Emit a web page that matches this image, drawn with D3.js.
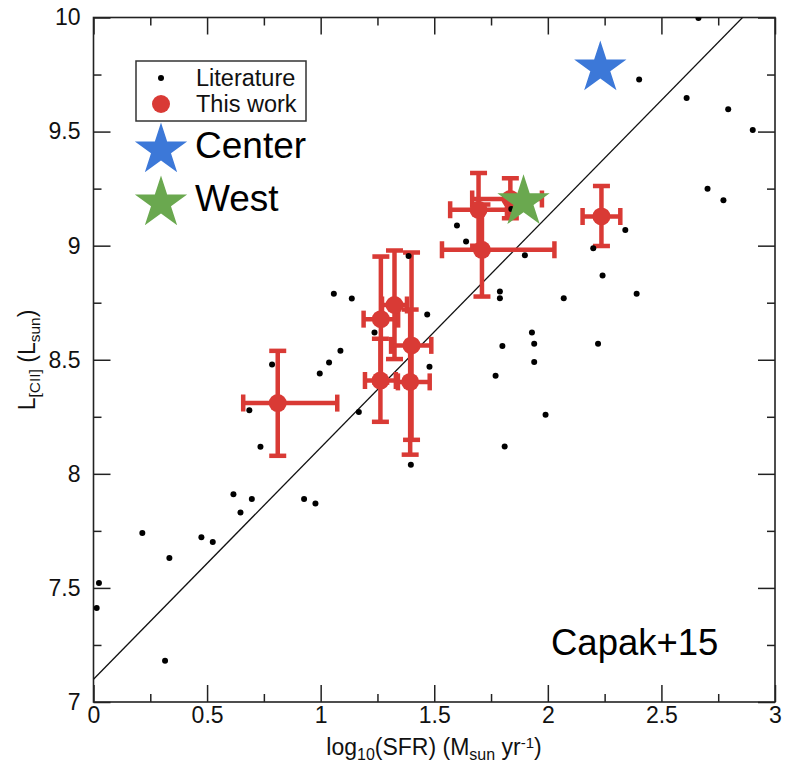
<!DOCTYPE html>
<html>
<head>
<meta charset="utf-8">
<script src="https://cdn.jsdelivr.net/npm/d3@7"></script>
<style>
  html, body { margin: 0; padding: 0; background: #fff; }
  svg { display: block; font-family: "Liberation Sans", Arial, Helvetica, sans-serif; }
</style>
</head>
<body>
<svg id="chart" width="785" height="772"></svg>
<script>
// Literature compilation: log10 SFR vs log10 L[CII]
const litSFR = [0.215, 0.334, 0.024, 0.014, 0.315, 0.475, 0.525, 0.616, 0.647, 0.697,
  0.927, 0.977, 0.686, 0.786, 0.735, 0.996, 1.037, 1.087, 1.058, 1.137,
  1.168, 1.237, 1.469, 1.479, 1.397, 1.387, 1.640, 2.663, 2.402, 2.611,
  2.794, 2.902, 2.703, 2.773, 1.600, 1.839, 1.899, 2.341, 2.200, 2.241,
  2.391, 1.789, 1.789, 2.070, 1.930, 1.940, 1.800, 2.221, 1.940, 1.770,
  1.990, 1.810];
const litLCII = [7.741, 7.631, 7.522, 7.412, 7.181, 7.722, 7.701, 7.910, 7.831, 7.890,
  7.890, 7.870, 8.279, 8.479, 8.119, 8.440, 8.488, 8.539, 8.789, 8.768,
  8.271, 8.619, 8.698, 8.469, 8.040, 8.955, 9.018, 9.998, 9.728, 9.647,
  9.598, 9.507, 9.249, 9.199, 9.088, 9.161, 8.958, 9.069, 8.989, 8.869,
  8.789, 8.799, 8.770, 8.770, 8.619, 8.570, 8.560, 8.570, 8.490, 8.430,
  8.259, 8.120];

// This work: values with lower / upper error limits
const workSFR   = [0.811, 1.265, 1.263, 1.325, 1.400, 1.394, 1.710, 1.695, 1.835, 2.236];
const workSFRlo = [0.659, 1.189, 1.195, 1.270, 1.310, 1.340, 1.534, 1.570, 1.667, 2.153];
const workSFRhi = [1.073, 1.341, 1.331, 1.380, 1.487, 1.480, 2.029, 1.820, 1.974, 2.319];
const workL     = [8.310, 8.678, 8.409, 8.740, 8.563, 8.403, 8.982, 9.157, 9.205, 9.128];
const workLlo   = [8.079, 8.400, 8.228, 8.503, 8.149, 8.084, 8.777, 9.000, 9.120, 8.999];
const workLhi   = [8.539, 8.952, 8.592, 8.979, 8.970, 8.720, 9.180, 9.318, 9.296, 9.262];

// Integrated regions
const regionNames = ["Center", "West"];
const regionSFR = [2.231, 1.893];
const regionL = [9.779, 9.192];
const regionColors = ["#3c78d8", "#6aa84f"];

// Capak+15 relation
const fitIntercept = 7.1;
const fitSlope = 1.015;

const xMajor = [0, 0.5, 1, 1.5, 2, 2.5, 3];
const xMajorLabels = ["0", "0.5", "1", "1.5", "2", "2.5", "3"];
const xMinor = [0.25, 0.75, 1.25, 1.75, 2.25, 2.75];
const yMajor = [7, 7.5, 8, 8.5, 9, 9.5, 10];
const yMajorLabels = ["7", "7.5", "8", "8.5", "9", "9.5", "10"];
const yMinor = [7.25, 7.75, 8.25, 8.75, 9.25, 9.75];

const RED = "#d93a35";

const svg = d3.select("#chart");
const L = 93.5, R = 775, T = 17.5, B = 702;
const x = d3.scaleLinear().domain([0, 3]).range([L, R]);
const y = d3.scaleLinear().domain([7, 10]).range([B, T]);

svg.append("defs").append("clipPath").attr("id", "plotclip")
  .append("rect").attr("x", L).attr("y", T).attr("width", R - L).attr("height", B - T);

// frame + inward ticks on all four sides
const tickFont = 23;
function styleAxis(g) {
  g.select(".domain").remove();
  g.selectAll(".tick line").attr("stroke", "#222").attr("stroke-width", 1.5);
  g.selectAll(".tick text").attr("fill", "#111").style("font-size", tickFont + "px")
    .style("font-family", "'Liberation Sans', Arial, sans-serif");
}
const xb = svg.append("g").attr("transform", `translate(0,${B})`)
  .call(d3.axisBottom(x).tickValues(xMajor).tickSizeInner(-17).tickSizeOuter(0).tickPadding(22)
    .tickFormat((d, i) => xMajorLabels[i]));
styleAxis(xb);
xb.selectAll(".tick text").attr("dy", "0.71em").attr("y", 5);
svg.append("g").attr("transform", `translate(0,${B})`)
  .call(d3.axisBottom(x).tickValues(xMinor).tickSizeInner(-8).tickSizeOuter(0).tickFormat(""))
  .call(styleAxis);
svg.append("g").attr("transform", `translate(0,${T})`)
  .call(d3.axisTop(x).tickValues(xMajor).tickSizeInner(-17).tickSizeOuter(0).tickFormat(""))
  .call(styleAxis);
svg.append("g").attr("transform", `translate(0,${T})`)
  .call(d3.axisTop(x).tickValues(xMinor).tickSizeInner(-8).tickSizeOuter(0).tickFormat(""))
  .call(styleAxis);
const yl = svg.append("g").attr("transform", `translate(${L},0)`)
  .call(d3.axisLeft(y).tickValues(yMajor).tickSizeInner(-17).tickSizeOuter(0).tickPadding(14)
    .tickFormat((d, i) => yMajorLabels[i]));
styleAxis(yl);
yl.selectAll(".tick text").attr("x", -13);
svg.append("g").attr("transform", `translate(${L},0)`)
  .call(d3.axisLeft(y).tickValues(yMinor).tickSizeInner(-8).tickSizeOuter(0).tickFormat(""))
  .call(styleAxis);
svg.append("g").attr("transform", `translate(${R},0)`)
  .call(d3.axisRight(y).tickValues(yMajor).tickSizeInner(-17).tickSizeOuter(0).tickFormat(""))
  .call(styleAxis);
svg.append("g").attr("transform", `translate(${R},0)`)
  .call(d3.axisRight(y).tickValues(yMinor).tickSizeInner(-8).tickSizeOuter(0).tickFormat(""))
  .call(styleAxis);
svg.append("rect").attr("x", L).attr("y", T).attr("width", R - L).attr("height", B - T)
  .attr("fill", "none").attr("stroke", "#222").attr("stroke-width", 1.6);

const plot = svg.append("g").attr("clip-path", "url(#plotclip)");

// fitted relation
const fitX = [0, 3];
plot.append("line")
  .attr("x1", x(fitX[0])).attr("y1", y(fitIntercept + fitSlope * fitX[0]))
  .attr("x2", x(fitX[1])).attr("y2", y(fitIntercept + fitSlope * fitX[1]))
  .attr("stroke", "#111").attr("stroke-width", 1.3);

// error bars for this work
const capHalf = 8.5;
const eb = plot.append("g").attr("stroke", RED).attr("stroke-width", 4.5).attr("fill", "none");
workSFR.forEach((v, i) => {
  const cx = x(v), cy = y(workL[i]);
  const x0 = x(workSFRlo[i]), x1 = x(workSFRhi[i]);
  const y0 = y(workLlo[i]), y1 = y(workLhi[i]);
  eb.append("line").attr("x1", x0).attr("x2", x1).attr("y1", cy).attr("y2", cy);
  eb.append("line").attr("x1", cx).attr("x2", cx).attr("y1", y0).attr("y2", y1);
  eb.append("line").attr("x1", x0).attr("x2", x0).attr("y1", cy - capHalf).attr("y2", cy + capHalf);
  eb.append("line").attr("x1", x1).attr("x2", x1).attr("y1", cy - capHalf).attr("y2", cy + capHalf);
  eb.append("line").attr("x1", cx - capHalf).attr("x2", cx + capHalf).attr("y1", y0).attr("y2", y0);
  eb.append("line").attr("x1", cx - capHalf).attr("x2", cx + capHalf).attr("y1", y1).attr("y2", y1);
});
plot.append("g").selectAll("circle").data(workSFR).join("circle")
  .attr("cx", d => x(d)).attr("cy", (d, i) => y(workL[i])).attr("r", 9).attr("fill", RED);

// literature points
plot.append("g").selectAll("circle").data(litSFR).join("circle")
  .attr("cx", d => x(d)).attr("cy", (d, i) => y(litLCII[i])).attr("r", 3).attr("fill", "#000");

// five-pointed star path centred at origin
function starPath(Ro) {
  const ri = Ro * 0.382;
  const pts = [];
  for (let k = 0; k < 10; k++) {
    const a = -Math.PI / 2 + k * Math.PI / 5;
    const rr = k % 2 === 0 ? Ro : ri;
    pts.push([rr * Math.cos(a), rr * Math.sin(a)]);
  }
  return "M" + pts.map(p => p[0].toFixed(2) + "," + p[1].toFixed(2)).join("L") + "Z";
}
const starR = 27.5;
plot.append("g").selectAll("path").data(regionSFR).join("path")
  .attr("d", starPath(starR))
  .attr("transform", (d, i) => `translate(${x(d)},${y(regionL[i])})`)
  .attr("fill", (d, i) => regionColors[i]);

// legend
const lg = svg.append("g");
lg.append("rect").attr("x", 136).attr("y", 61).attr("width", 170).attr("height", 60)
  .attr("fill", "#fff").attr("stroke", "#333").attr("stroke-width", 1.5);
lg.append("circle").attr("cx", 161).attr("cy", 78).attr("r", 3).attr("fill", "#000");
lg.append("text").attr("x", 196).attr("y", 86).text("Literature")
  .style("font-size", "23.5px").attr("fill", "#111");
lg.append("circle").attr("cx", 161).attr("cy", 104).attr("r", 9).attr("fill", RED);
lg.append("text").attr("x", 196).attr("y", 112).text("This work")
  .style("font-size", "23.5px").attr("fill", "#111");
regionNames.forEach((name, i) => {
  const cy = 150 + i * 53;
  lg.append("path").attr("d", starPath(starR)).attr("transform", `translate(161,${cy})`)
    .attr("fill", regionColors[i]);
  lg.append("text").attr("x", 195).attr("y", cy + 8).text(name)
    .style("font-size", "37px").attr("fill", "#000");
});

// annotation
svg.append("text").attr("x", 551).attr("y", 655).text("Capak+15")
  .style("font-size", "36.5px").attr("fill", "#000");

// axis titles
const xt = svg.append("text").attr("x", 434).attr("y", 755).attr("text-anchor", "middle")
  .style("font-size", "23px").attr("fill", "#111");
xt.append("tspan").text("log");
xt.append("tspan").text("10").attr("baseline-shift", "-30%").style("font-size", "16px");
xt.append("tspan").text("(SFR) (M");
xt.append("tspan").text("sun").attr("baseline-shift", "-30%").style("font-size", "16px");
xt.append("tspan").text(" yr");
xt.append("tspan").text("-1").attr("baseline-shift", "45%").style("font-size", "15px");
xt.append("tspan").text(")");

const yt = svg.append("text").attr("transform", "translate(35,360) rotate(-90)")
  .attr("text-anchor", "middle").style("font-size", "23px").attr("fill", "#111");
yt.append("tspan").text("L");
yt.append("tspan").text("[CII]").attr("baseline-shift", "-30%").style("font-size", "15.5px");
yt.append("tspan").text(" (L");
yt.append("tspan").text("sun").attr("baseline-shift", "-30%").style("font-size", "15.5px");
yt.append("tspan").text(")");
</script>
</body>
</html>
